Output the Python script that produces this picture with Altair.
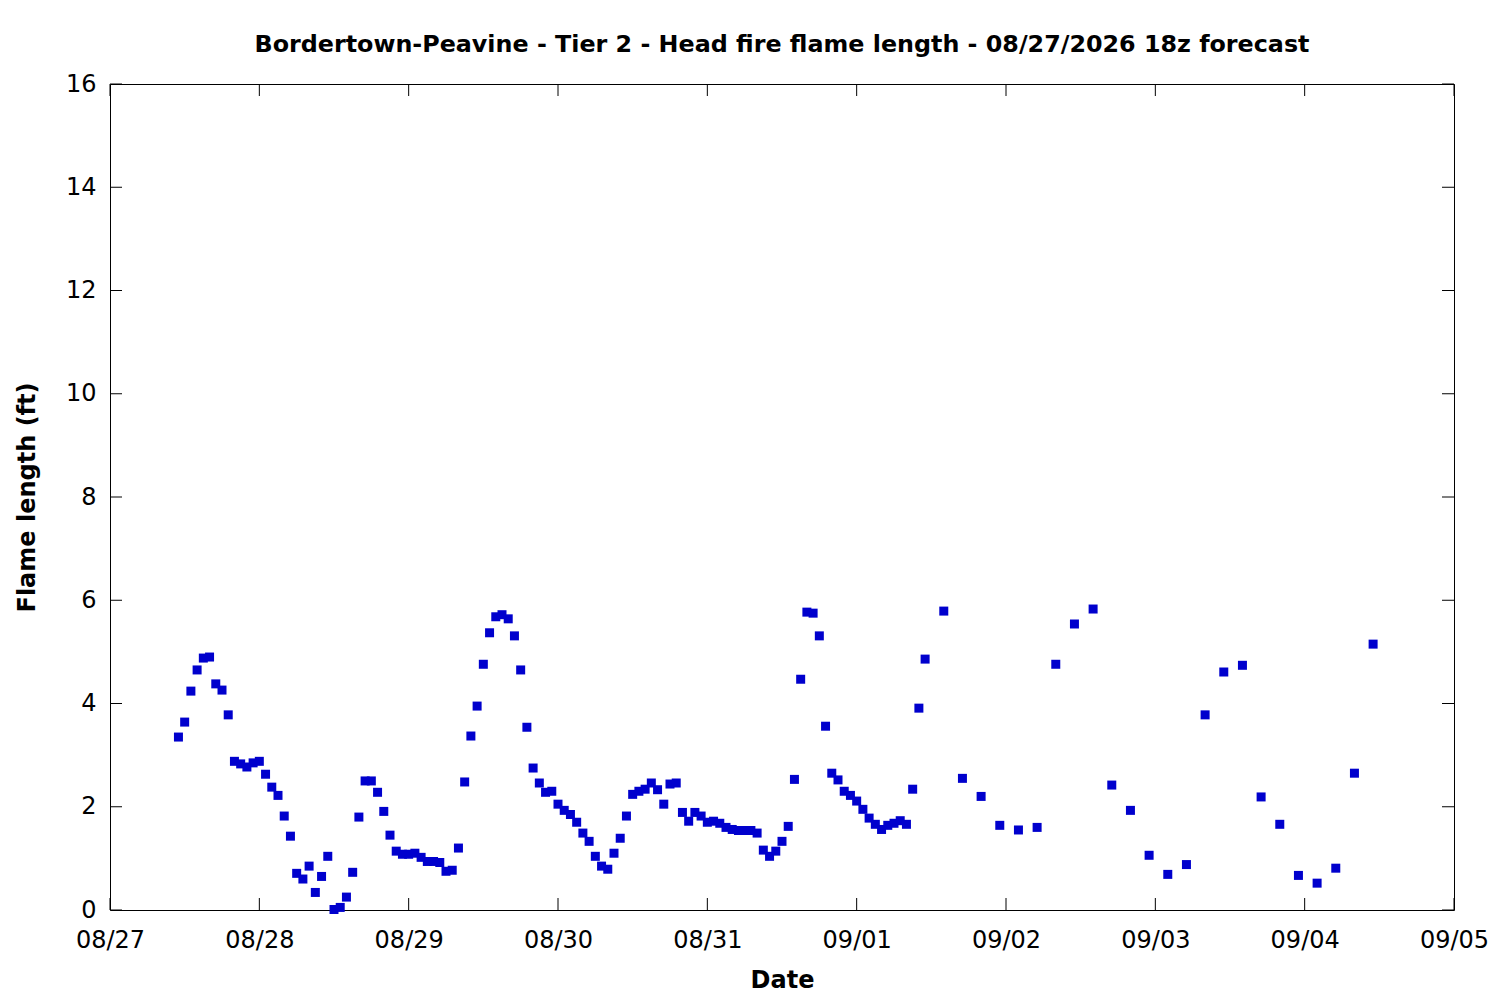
import altair as alt
import pandas as pd

# ---- data ----
hourly_start = "2026-08-27 11:00"
hourly_values = [
    3.35, 3.64, 4.24, 4.65, 4.88, 4.90, 4.38, 4.26, 3.78, 2.88,
    2.83, 2.77, 2.85, 2.88, 2.63, 2.38, 2.22, 1.82, 1.43, 0.71,
    0.60, 0.85, 0.34, 0.65, 1.04, 0.01, 0.05, 0.25, 0.73, 1.80,
    2.50, 2.50, 2.28, 1.91, 1.45, 1.14, 1.08, 1.08, 1.10, 1.02,
    0.94, 0.94, 0.92, 0.75, 0.77, 1.20, 2.48, 3.37, 3.95, 4.76,
    5.37, 5.68, 5.72, 5.64, 5.31, 4.65, 3.54, 2.75, 2.46, 2.28,
    2.30, 2.05, 1.93, 1.85, 1.70, 1.49, 1.33, 1.04, 0.85, 0.79,
    1.10, 1.39, 1.82, 2.24, 2.30, 2.34, 2.46, 2.33, 2.05, 2.44,
    2.46, 1.89, 1.72, 1.89, 1.82, 1.70, 1.72, 1.68, 1.60, 1.56,
    1.54, 1.54, 1.54, 1.49, 1.16, 1.04, 1.14, 1.33, 1.62, 2.53,
    4.47, 5.77, 5.75, 5.31, 3.56, 2.65, 2.52, 2.30, 2.22, 2.11,
    1.95, 1.78, 1.66, 1.56, 1.64, 1.68, 1.73, 1.66, 2.34, 3.91,
    4.86,
]
three_hourly_start = "2026-09-01 14:00"
three_hourly_values = [
    5.79, 2.55, 2.20, 1.64, 1.55, 1.60, 4.76, 5.54, 5.83, 2.42,
    1.93, 1.06, 0.69, 0.88, 3.78, 4.61, 4.74, 2.19, 1.66, 0.67,
    0.52, 0.81, 2.65, 5.15,
]
date_ticks = ["2026-08-27", "2026-08-28", "2026-08-29", "2026-08-30", "2026-08-31",
              "2026-09-01", "2026-09-02", "2026-09-03", "2026-09-04", "2026-09-05"]
y_ticks = [0, 2, 4, 6, 8, 10, 12, 14, 16]

title_text = "Bordertown-Peavine - Tier 2 - Head fire flame length - 08/27/2026 18z forecast"
x_title = "Date"
y_title = "Flame length (ft)"

# ---- tables ----
times = list(pd.date_range(hourly_start, periods=len(hourly_values), freq="h")) + \
        list(pd.date_range(three_hourly_start, periods=len(three_hourly_values), freq="3h"))
df = pd.DataFrame({
    "time": [t.strftime("%Y-%m-%dT%H:%M:%S") for t in times],
    "value": hourly_values + three_hourly_values,
})
xt_df = pd.DataFrame({"time": [d + "T00:00:00" for d in date_ticks]})
yt_df = pd.DataFrame({"value": y_ticks})

FONT = "DejaVu Sans"
W, H = 1344, 826
TICK = 12

tick_dts = [alt.DateTime(year=int(d[:4]), month=int(d[5:7]), date=int(d[8:10])) for d in date_ticks]
x_scale = alt.Scale(domain=[tick_dts[0], tick_dts[-1]])
y_scale = alt.Scale(domain=[y_ticks[0], y_ticks[-1]], nice=False, zero=False)

x_axis = alt.Axis(
    values=tick_dts, format="%m/%d", title=x_title,
    ticks=False, domain=False, grid=False, labelFlush=False, labelOverlap=False,
    labelPadding=18, labelFontSize=24, labelFont=FONT, labelColor="black",
    titleFontSize=24, titleFont=FONT, titleFontWeight="bold", titleColor="black",
    titleX=W / 2, titleY=70, titleBaseline="middle", titleAlign="center",
)
y_axis = alt.Axis(
    values=y_ticks, title=y_title,
    ticks=False, domain=False, grid=False, labelFlush=False, labelOverlap=False,
    labelPadding=14, labelFontSize=24, labelFont=FONT, labelColor="black",
    titleFontSize=24, titleFont=FONT, titleFontWeight="bold", titleColor="black",
    titleX=-83, titleY=H / 2, titleBaseline="middle", titleAlign="center", titleAngle=270,
)

points = alt.Chart(df).mark_square(size=81, color="#0000CD", opacity=1).encode(
    x=alt.X("time:T", scale=x_scale, axis=x_axis, title=x_title),
    y=alt.Y("value:Q", scale=y_scale, axis=y_axis, title=y_title),
)

bottom_ticks = alt.Chart(xt_df).mark_rule(color="black", strokeWidth=1).encode(
    x=alt.X("time:T", scale=x_scale, axis=x_axis, title=x_title),
    y=alt.value(H), y2=alt.value(H - TICK),
)
top_ticks = alt.Chart(xt_df).mark_rule(color="black", strokeWidth=1).encode(
    x=alt.X("time:T", scale=x_scale, axis=x_axis, title=x_title),
    y=alt.value(0), y2=alt.value(TICK),
)
left_ticks = alt.Chart(yt_df).mark_rule(color="black", strokeWidth=1).encode(
    y=alt.Y("value:Q", scale=y_scale, axis=y_axis, title=y_title),
    x=alt.value(0), x2=alt.value(TICK),
)
right_ticks = alt.Chart(yt_df).mark_rule(color="black", strokeWidth=1).encode(
    y=alt.Y("value:Q", scale=y_scale, axis=y_axis, title=y_title),
    x=alt.value(W - TICK), x2=alt.value(W),
)

chart = alt.layer(points, bottom_ticks, top_ticks, left_ticks, right_ticks).properties(
    width=W, height=H,
    title=alt.TitleParams(text=title_text, font=FONT, fontSize=23.8, fontWeight="bold",
                          color="black", anchor="middle", frame="group", offset=15),
    padding={"left": 102, "top": 76, "right": 38, "bottom": 82},
    autosize=alt.AutoSizeParams(type="none"),
    background="white",
).configure_view(stroke="black", strokeWidth=1)

chart.save("out.html", embed_options={"renderer": "svg", "actions": False})
